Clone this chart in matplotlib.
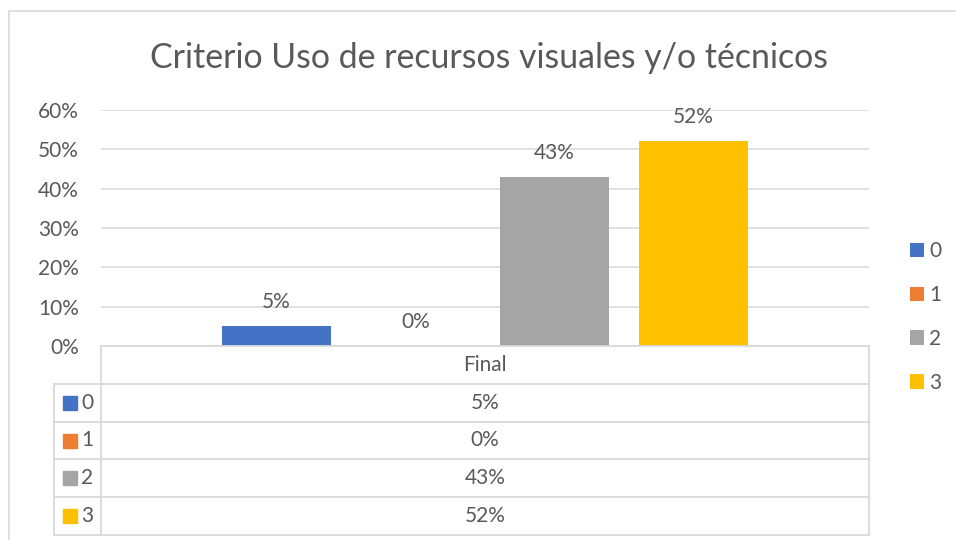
#!/usr/bin/env python3
# -*- coding: utf-8 -*-
"""Criterio Uso de recursos visuales y/o técnicos -- Excel style bar chart with data table."""

import matplotlib
matplotlib.use("Agg")
import matplotlib.pyplot as plt
from matplotlib.patches import Rectangle
from matplotlib.ticker import PercentFormatter

TITLE = "Criterio Uso de recursos visuales y/o técnicos"
CATEGORY = "Final"
SERIES = ["0", "1", "2", "3"]
VALUES = [0.05, 0.00, 0.43, 0.52]
COLORS = ["#4472C4", "#ED7D31", "#A5A5A5", "#FFC000"]
YTICKS = [0.0, 0.1, 0.2, 0.3, 0.4, 0.5, 0.6]

TEXT = "#595959"
GRID = "#D9D9D9"
W, H = 956, 540

plt.rcParams["font.family"] = ["Lato", "DejaVu Sans"]


def fx(px):
    return px / W


def fy(py):
    return (H - py) / H


def main():
    fig = plt.figure(figsize=(W / 100, H / 100), dpi=100)

    # chart border (right/bottom edges run past the picture)
    fig.patches.append(Rectangle((fx(9), fy(600)), 2, fy(11) - fy(600),
                                 transform=fig.transFigure, fill=False,
                                 edgecolor=GRID, linewidth=1.2))

    fig.text(fx(489), fy(68), TITLE, ha="center", va="baseline",
             fontsize=24.4, color=TEXT)

    # --- plot area ---
    left, right, top, base = 101, 869, 110, 346
    ax = fig.add_axes([fx(left), fy(base), fx(right - left), fy(top) - fy(base)])
    ax.set_xlim(-0.5, 0.5)
    ax.set_ylim(0, 0.6)

    step, width = 0.181, 0.143
    bars = []
    for i, (name, val, col) in enumerate(zip(SERIES, VALUES, COLORS)):
        xpos = (i - 1.5) * step
        b = ax.bar(xpos, val, width=width, color=col, label=name, zorder=3)
        bars.append(b)
        ax.annotate(f"{val:.0%}", (xpos, val), xytext=(0, 17.5),
                    textcoords="offset points", ha="center", va="center",
                    fontsize=15, color=TEXT)

    ax.set_yticks(YTICKS)
    ax.yaxis.set_major_formatter(PercentFormatter(1.0, decimals=0))
    ax.tick_params(axis="y", length=0, pad=16, labelsize=15, labelcolor=TEXT)
    ax.set_xticks([])
    ax.grid(axis="y", color=GRID, linewidth=1.1, zorder=0)
    for s in ax.spines.values():
        s.set_visible(False)

    ax.legend(handles=[b[0] for b in bars], labels=SERIES,
              loc="upper left", bbox_to_anchor=(fx(910), fy(241)),
              bbox_transform=fig.transFigure, frameon=False, fontsize=15,
              labelcolor=TEXT, handlelength=0.68, handleheight=0.68,
              handletextpad=0.25, labelspacing=1.15,
              borderpad=0, borderaxespad=0)

    # --- data table below the plot ---
    tb = fig.add_axes([0, 0, 1, 1], zorder=5)
    tb.set_xlim(0, W)
    tb.set_ylim(H, 0)
    tb.axis("off")
    tb.patch.set_alpha(0)

    key_left = 54
    row_h = 37.8
    rows_top = base + row_h
    tbl_bottom = rows_top + row_h * len(SERIES)
    lw = 1.3

    tb.plot([left, right], [base, base], color=GRID, lw=lw)
    tb.plot([left, left], [base, tbl_bottom], color=GRID, lw=lw)
    tb.plot([right, right], [base, tbl_bottom], color=GRID, lw=lw)
    tb.plot([key_left, key_left], [rows_top, tbl_bottom], color=GRID, lw=lw)
    for k in range(len(SERIES) + 1):
        yy = rows_top + k * row_h
        tb.plot([key_left, right], [yy, yy], color=GRID, lw=lw)

    mid = (left + right) / 2
    tb.text(mid, base + row_h / 2, CATEGORY, ha="center", va="center",
            fontsize=15, color=TEXT)
    for k, (name, val, col) in enumerate(zip(SERIES, VALUES, COLORS)):
        yc = rows_top + (k + 0.5) * row_h
        tb.add_patch(Rectangle((63, yc - 7), 14, 14, color=col))
        tb.text(81, yc, name, ha="left", va="center", fontsize=15, color=TEXT)
        tb.text(mid, yc, f"{val:.0%}", ha="center", va="center",
                fontsize=15, color=TEXT)

    fig.savefig("out.png", dpi=100)
    plt.close(fig)


if __name__ == "__main__":
    main()
